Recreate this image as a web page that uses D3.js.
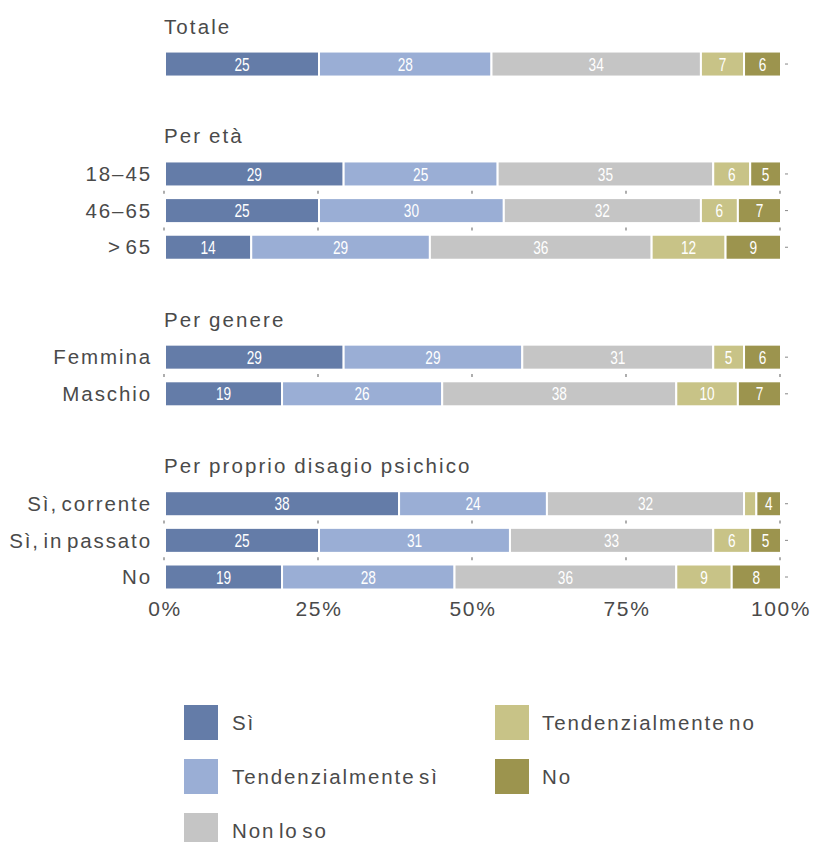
<!DOCTYPE html>
<html><head><meta charset="utf-8">
<script src="https://cdn.jsdelivr.net/npm/d3@7"></script>
<style>
body{margin:0;background:#fff}
text{font-family:"Liberation Sans",Roboto,sans-serif;}
</style></head>
<body><svg id="c" width="814" height="842"></svg>
<script>
const series = ["Sì","Tendenzialmente sì","Non lo so","Tendenzialmente no","No"];
const colors = ["#647ca8","#9aaed5","#c5c5c5","#c8c387","#9c944e"];
const groups = ["Totale","Per età","Per genere","Per proprio disagio psichico"];
const categories = [
  {g:0,label:""},
  {g:1,label:"18–45"},{g:1,label:"46–65"},{g:1,label:"> 65"},
  {g:2,label:"Femmina"},{g:2,label:"Maschio"},
  {g:3,label:"Sì, corrente"},{g:3,label:"Sì, in passato"},{g:3,label:"No"}
];
const values = [
  [25,28,34,7,6],
  [29,25,35,6,5],
  [25,30,32,6,7],
  [14,29,36,12,9],
  [29,29,31,5,6],
  [19,26,38,10,7],
  [38,24,32,2,4],
  [25,31,33,6,5],
  [19,28,36,9,8]
];
const xTicks = [0,25,50,75,100];

const svg = d3.select("#c");
const x = d3.scaleLinear().domain([0,100]).range([165,781]);

const slots = [];
groups.forEach((g,gi)=>{
  if(gi>0) slots.push({type:"blank"});
  slots.push({type:"title",g:gi});
  categories.forEach((c,ci)=>{ if(c.g===gi) slots.push({type:"bar",ci}); });
});
const y = d3.scalePoint().domain(d3.range(slots.length)).range([27.4,577]);
const bh = 25;
const textCol = "#4a4a4a";

slots.forEach((s,si)=>{
  const cy = y(si);
  if(s.type==="title"){
    svg.append("text").attr("x",164).attr("y",cy-1).attr("dy","0.35em")
      .attr("font-size",20.5).attr("fill",textCol).attr("letter-spacing","2.1px")
      .attr("word-spacing","-1px")
      .text(groups[s.g]);
  }
  if(s.type==="bar"){
    const c = categories[s.ci];
    const vals = values[s.ci];
    let cum = 0;
    const segs = vals.map((v,i)=>{const o={i,v,x0:cum,x1:cum+v}; cum+=v; return o;});
    const gg = svg.append("g");
    gg.selectAll("rect").data(segs).join("rect")
      .attr("x",d=>x(d.x0)).attr("width",d=>x(d.x1)-x(d.x0))
      .attr("y",cy-bh/2).attr("height",bh)
      .attr("fill",d=>colors[d.i]).attr("stroke","#fff").attr("stroke-width",2);
    gg.selectAll("text").data(segs.filter(d=>d.v>=3)).join("text")
      .attr("x",d=>x((d.x0+d.x1)/2)).attr("y",cy).attr("dy","0.36em")
      .attr("text-anchor","middle").attr("font-size",18.5).attr("fill","#fff")
      .attr("textLength",d=>String(d.v).length*7.6).attr("lengthAdjust","spacingAndGlyphs")
      .text(d=>d.v);
    if(c.label){
      svg.append("text").attr("x",152).attr("y",cy).attr("dy","0.35em")
        .attr("text-anchor","end").attr("font-size",20.5).attr("fill",textCol)
        .attr("letter-spacing","1.9px").attr("word-spacing","-4px").text(c.label);
    }
    svg.append("line").attr("x1",785).attr("x2",788).attr("y1",cy).attr("y2",cy)
      .attr("stroke","#888").attr("stroke-width",1);
    const nxt = slots[si+1];
    if(nxt && nxt.type==="bar"){
      const gy = (cy + y(si+1))/2;
      svg.selectAll(null).data(xTicks).join("line")
        .attr("x1",d=>x(d)-1).attr("x2",d=>x(d)-1).attr("y1",gy-1.5).attr("y2",gy+1.5)
        .attr("stroke","#777").attr("stroke-width",1.2);
    }
  }
});

svg.selectAll(null).data(xTicks).join("text")
  .attr("x",d=>x(d)).attr("y",609).attr("dy","0.35em").attr("text-anchor","middle")
  .attr("font-size",21).attr("fill",textCol).attr("letter-spacing","1.6px")
  .text(d=>d+"%");

const leg = series.map((s,i)=>({s,i,col:i<3?0:1,row:i<3?i:i-3}));
const lg = svg.append("g");
lg.selectAll("rect").data(leg).join("rect")
  .attr("x",d=>d.col?495:184).attr("y",d=>705+d.row*54).attr("width",34).attr("height",35)
  .attr("fill",d=>colors[d.i]);
lg.selectAll("text").data(leg).join("text")
  .attr("x",d=>d.col?542:232).attr("y",d=>722.5+d.row*54).attr("dy","0.35em")
  .attr("font-size",20.5).attr("fill",textCol).attr("letter-spacing","1.9px")
  .attr("word-spacing","-4px")
  .text(d=>d.s);
</script></body></html>
